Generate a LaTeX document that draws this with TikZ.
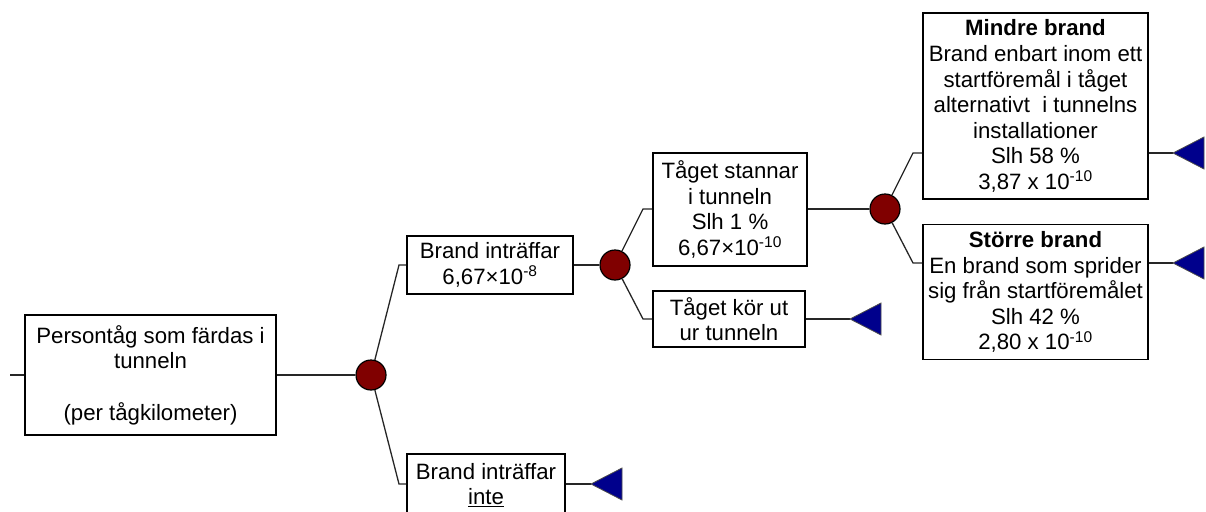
\documentclass[tikz,border=0pt]{standalone}
\usepackage{fontspec}
\setmainfont{Liberation Sans}
\definecolor{chancered}{RGB}{128,0,0}
\definecolor{termblue}{RGB}{0,0,140}
\begin{document}
\begin{tikzpicture}[x=1pt,y=-1pt,
  box/.style={draw=black,line width=1.6pt,fill=white,align=center,inner sep=0pt,font=\fontsize{22.2}{25.6}\selectfont},
  chance/.style={circle,draw=black,line width=1.2pt,fill=chancered,minimum size=30pt,inner sep=0pt},
  conn/.style={line width=1.3pt,draw=black!85},
  term/.style={fill=termblue,draw=black!70,line width=0.8pt}]
\useasboundingbox (0,0) rectangle (1206,511);
\clip (0,0) rectangle (1206,511);
% boxes
\node[box,minimum width=251pt,minimum height=120pt] (root) at (150.5,375)
  {Persontåg som färdas i\\tunneln\\~\\(per tågkilometer)};
\node[box,minimum width=166pt,minimum height=58pt] (b1) at (490,265)
  {Brand inträffar\\6,67×10\textsuperscript{-8}};
\node[box,minimum width=158pt,minimum height=62pt] (b2) at (486,485)
  {Brand inträffar\\\underline{inte}};
\node[box,minimum width=154pt,minimum height=113pt] (b3) at (730,209.5)
  {Tåget stannar\\i tunneln\\Slh 1 \%\\6,67×10\textsuperscript{-10}};
\node[box,minimum width=152pt,minimum height=56pt] (b4) at (729,319)
  {Tåget kör ut\\ur tunneln};
\node[box,minimum width=225pt,minimum height=186pt] (b5) at (1035.5,106)
  {\textbf{Mindre brand}\\Brand enbart inom ett\\startföremål i tåget\\alternativt\ \ i tunnelns\\installationer\\Slh 58 \%\\3,87 x 10\textsuperscript{-10}};
\node[box,minimum width=225pt,minimum height=135pt] (b6) at (1035.5,292)
  {\textbf{Större brand}\\En brand som sprider\\sig från startföremålet\\Slh 42 \%\\2,80 x 10\textsuperscript{-10}};
% chance nodes
\node[chance] (c1) at (371,375) {};
\node[chance] (c2) at (615,265) {};
\node[chance] (c3) at (885,209) {};
% elbows and terminal tips
\coordinate (s0) at (10,375);
\coordinate (k1) at (399,265);
\coordinate (k2) at (399,484);
\coordinate (k3) at (643,209);
\coordinate (k4) at (643,319);
\coordinate (k5) at (913,153);
\coordinate (k6) at (913,263);
\coordinate (t2) at (591,484);
\coordinate (t3) at (850,319);
\coordinate (t4) at (1173,153);
\coordinate (t5) at (1173,263);
% connectors
\draw[conn] (s0) -- (root.west);
\draw[conn] (root.east) -- (c1);
\draw[conn] (c1) -- (k1) -- (b1.west);
\draw[conn] (c1) -- (k2) -- (k2 -| b2.west);
\draw[conn] (k2 -| b2.east) -- (t2);
\draw[conn] (b1.east) -- (c2);
\draw[conn] (c2) -- (k3) -- (k3 -| b3.west);
\draw[conn] (c2) -- (k4) -- (b4.west);
\draw[conn] (b4.east) -- (t3);
\draw[conn] (b3.east |- c3) -- (c3);
\draw[conn] (c3) -- (k5) -- (k5 -| b5.west);
\draw[conn] (c3) -- (k6) -- (k6 -| b6.west);
\draw[conn] (k5 -| b5.east) -- (t4);
\draw[conn] (k6 -| b6.east) -- (t5);
% terminal triangles
\foreach \t in {t2,t3,t4,t5}
  \filldraw[term] (\t) -- ++(31,-16) -- ++(0,32) -- cycle;
\end{tikzpicture}
\end{document}
